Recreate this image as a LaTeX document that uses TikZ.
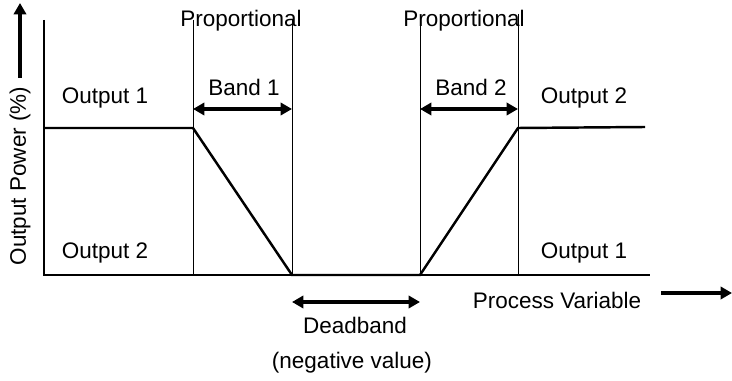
\documentclass[tikz,border=0pt]{standalone}
\usepackage{fontspec}
\setmainfont{Liberation Sans}
\usetikzlibrary{positioning,arrows.meta}

\begin{document}
\begin{tikzpicture}[
  x=0.02cm,y=-0.02cm,
  font=\fontsize{12.8}{14}\selectfont,
  >={Triangle[length=6.5pt,width=7pt]},
  lbl/.style={inner sep=0pt,anchor=center},
  guide/.style={line width=0.5pt},
  axis/.style={line width=1.2pt},
  curve/.style={line width=1.4pt},
  arr/.style={<->,line width=2.1pt},
  dir/.style={->,line width=2.1pt},
]
  \useasboundingbox (0,0) rectangle (732,381);

  % axes
  \coordinate (o) at (44,275);
  \coordinate (ytop) at (44,20);
  \coordinate (xend) at (650,275);
  \draw[axis] (ytop) -- (o) -- (xend);

  % break points of the output curve
  \coordinate (c0) at (44,128);
  \coordinate (c1) at (193,128);
  \coordinate (c2) at (292,275);
  \coordinate (c3) at (420,275);
  \coordinate (c4) at (518,128);
  \coordinate (c5) at (645,127);

  % guide lines
  \coordinate (g1) at (193,20);
  \coordinate (g2) at (292,20);
  \coordinate (g3) at (420,19);
  \coordinate (g4) at (518,14);
  \draw[guide] (g1) -- (c1 |- o);
  \draw[guide] (g2) -- (c2);
  \draw[guide] (g3) -- (c3);
  \draw[guide] (g4) -- (c4 |- o);

  \draw[curve] (c0) -- (c1) -- (c2) -- (c3) -- (c4) -- (c5);

  % band arrows
  \coordinate (b1l) at (193,109);
  \coordinate (b1r) at (292,109);
  \coordinate (b2l) at (420,109);
  \coordinate (b2r) at (518,109);
  \draw[arr] (b1l) -- (b1r);
  \draw[arr] (b2l) -- (b2r);

  \coordinate (dbl) at (292,302);
  \coordinate (dbr) at (420,302);
  \draw[arr] (dbl) -- (dbr);

  % labels
  \node[lbl] (prop1) at (241,21) {Proportional};
  \node[lbl] (prop2) at (464,21) {Proportional};
  \node[lbl] (band1) at (244,87) {Band 1};
  \node[lbl] (band2) at (471,87) {Band 2};
  \node[lbl] (out1l) at (105,98) {Output 1};
  \node[lbl] (out2l) at (105,253) {Output 2};
  \node[lbl] (out2r) at (584,98) {Output 2};
  \node[lbl] (out1r) at (584,253) {Output 1};
  \node[lbl] (dead) at (355,325) {Deadband};
  \node[lbl] (neg) at (352,363) {(negative value)};
  \node[lbl] (pv) at (557,300) {Process Variable};
  \node[lbl,rotate=90] (opw) at (20,176) {Output Power (\%)};

  % direction arrows
  \coordinate (pvs) at (661,293);
  \coordinate (pve) at (732,293);
  \draw[dir] (pvs) -- (pve);
  \coordinate (ops) at (20,78);
  \coordinate (ope) at (20,3);
  \draw[dir] (ops) -- (ope);
\end{tikzpicture}
\end{document}
